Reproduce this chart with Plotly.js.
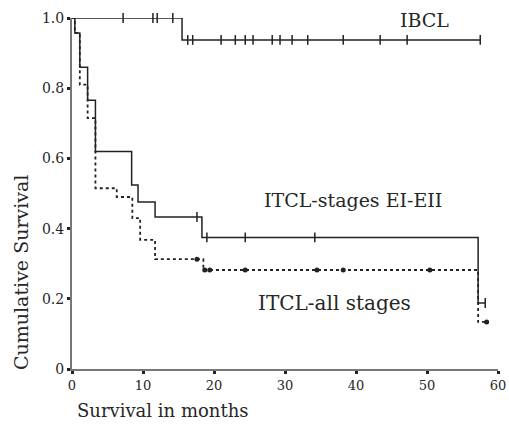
<!DOCTYPE html>
<html>
<head>
<meta charset="utf-8">
<script src="https://cdn.plot.ly/plotly-3.0.1.min.js"></script>
<style>html,body{margin:0;padding:0;background:#fff;}#chart{width:509px;height:425px;}</style>
</head>
<body>
<div id="chart"></div>
<script>
// IBCL
const ibclTimes = [0, 15.5, 57.5];
const ibclSurv = [1.0, 0.9375, 0.9375];
const ibclCensor = [7.2, 11.4, 12, 14.2, 16.3, 17, 21, 23, 24.4, 25.5, 28.2, 29.3, 31, 33.2, 38.2, 43.4, 47.2, 57.5];
// ITCL stages EI-EII (solid)
const earlyTimes = [0, 0.4, 1.1, 2.2, 3.3, 8.4, 9.3, 11.7, 18.3, 57.2, 58.2];
const earlySurv = [1.0, 0.957, 0.86, 0.766, 0.62, 0.524, 0.476, 0.433, 0.375, 0.188, 0.188];
const earlyCensor = [17.6, 19, 24.4, 34.2, 58.2];
// ITCL all stages (dotted)
const allTimes = [0, 0.4, 1.1, 2.2, 3.3, 6.3, 8.5, 9.6, 11.7, 18.5, 57.2, 58.4];
const allSurv = [1.0, 0.957, 0.81, 0.715, 0.515, 0.49, 0.43, 0.368, 0.313, 0.282, 0.134, 0.134];
const allCensor = [17.6, 18.7, 19.4, 24.4, 34.5, 38.2, 50.4, 58.4];

const xTicks = [0, 10, 20, 30, 40, 50, 60];
const yTicks = [0, 0.2, 0.4, 0.6, 0.8, 1.0];
const yTickText = ['0', '0.2', '0.4', '0.6', '0.8', '1.0'];

function survAt(times, surv, t) {
  let s = surv[0];
  for (let i = 0; i < times.length; i++) { if (times[i] <= t) s = surv[i]; }
  return s;
}

const ink = '#222';
const tickMarker = {symbol: 'line-ns-open', size: 7, color: ink, line: {color: ink, width: 1.5}};
const traces = [
  {x: ibclTimes, y: ibclSurv, mode: 'lines', line: {shape: 'hv', color: ink, width: 1.5}, cliponaxis: false},
  {x: ibclCensor, y: ibclCensor.map(t => survAt(ibclTimes, ibclSurv, t)), mode: 'markers',
   marker: tickMarker, cliponaxis: false},
  {x: earlyTimes, y: earlySurv, mode: 'lines', line: {shape: 'hv', color: ink, width: 1.5}, cliponaxis: false},
  {x: earlyCensor, y: earlyCensor.map(t => survAt(earlyTimes, earlySurv, t)), mode: 'markers',
   marker: tickMarker, cliponaxis: false},
  {x: allTimes, y: allSurv, mode: 'lines', line: {shape: 'hv', color: ink, width: 1.8, dash: 'dot'}, cliponaxis: false},
  {x: allCensor, y: allCensor.map(t => survAt(allTimes, allSurv, t)), mode: 'markers',
   marker: {symbol: 'circle', size: 5, color: ink}, cliponaxis: false}
];

const fam = 'DejaVu Serif, Liberation Serif, serif';
const txt = '#262626';
const layout = {
  width: 509, height: 425,
  margin: {l: 72, r: 11, t: 18, b: 56},
  paper_bgcolor: '#fff', plot_bgcolor: '#fff',
  showlegend: false,
  font: {family: fam, color: txt},
  xaxis: {
    range: [0, 60], tickvals: xTicks, ticks: 'outside', ticklen: 3, tickwidth: 3, tickcolor: '#222',
    showgrid: false, zeroline: false, showline: true, linecolor: '#777', linewidth: 2,
    tickfont: {family: fam, size: 13, color: txt}
  },
  yaxis: {
    range: [0, 1.0], tickvals: yTicks, ticktext: yTickText, ticks: 'outside', ticklen: 3, tickwidth: 3, tickcolor: '#222',
    showgrid: false, zeroline: false, showline: true, linecolor: '#777', linewidth: 2,
    tickfont: {family: fam, size: 14, color: txt}
  },
  annotations: [
    {x: 0.007, y: -0.117, xref: 'paper', yref: 'paper', text: 'Survival in months', showarrow: false,
     xanchor: 'left', yanchor: 'middle', font: {family: fam, size: 18, color: txt}},
    {x: -0.12, y: 0.276, xref: 'paper', yref: 'paper', text: 'Cumulative Survival', showarrow: false,
     textangle: -90, xanchor: 'center', yanchor: 'middle', font: {family: fam, size: 19, color: txt}},
    {x: 49.7, y: 0.994, xref: 'x', yref: 'y', text: 'IBCL', showarrow: false,
     xanchor: 'center', yanchor: 'middle', font: {family: fam, size: 19, color: txt}},
    {x: 39.6, y: 0.481, xref: 'x', yref: 'y', text: 'ITCL-stages EI-EII', showarrow: false,
     xanchor: 'center', yanchor: 'middle', font: {family: fam, size: 19, color: txt}},
    {x: 37.0, y: 0.188, xref: 'x', yref: 'y', text: 'ITCL-all stages', showarrow: false,
     xanchor: 'center', yanchor: 'middle', font: {family: fam, size: 20, color: txt}}
  ]
};

Plotly.newPlot('chart', traces, layout, {displayModeBar: false, staticPlot: true});
</script>
</body>
</html>
